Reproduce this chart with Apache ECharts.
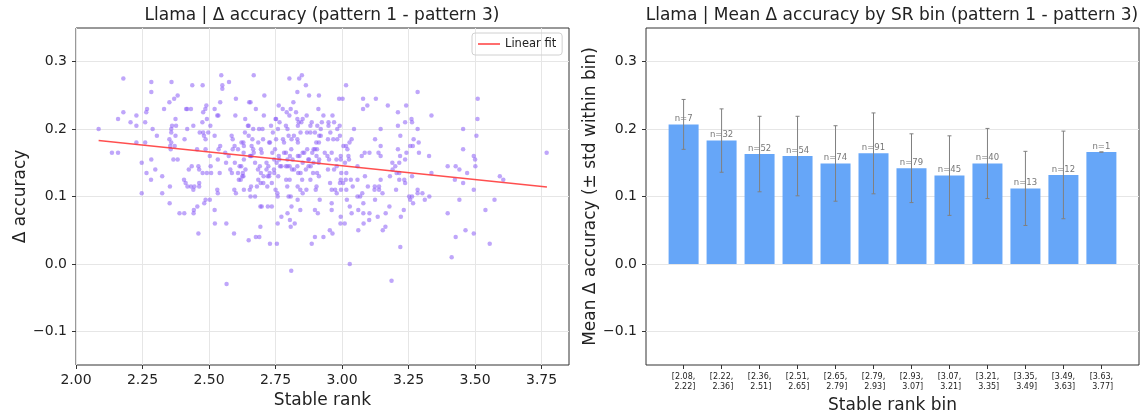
<!DOCTYPE html>
<html>
<head>
<meta charset="utf-8">
<script src="https://cdn.jsdelivr.net/npm/echarts@6/dist/echarts.min.js"></script>
<style>
  html, body { margin: 0; padding: 0; background: #fff; }
  #main { width: 1146px; height: 419px; }
</style>
</head>
<body>
<div id="main"></div>
<script>
// scatter: [stable rank, delta accuracy]
const scatterPoints = [
  [2.546,0.28],[2.668,0.28],[2.849,0.28],[2.839,0.275],[2.802,0.275],[2.178,0.275],
  [2.283,0.27],[2.359,0.27],[2.437,0.265],[2.476,0.265],[2.55,0.265],[2.575,0.27],[2.55,0.26],[2.864,0.265],
  [2.283,0.255],[2.832,0.255],[2.708,0.25],[2.876,0.25],[2.382,0.25],[2.369,0.245],[2.601,0.245],
  [2.351,0.24],[2.542,0.24],[2.651,0.24],[2.656,0.24],[2.817,0.24],[2.913,0.25],
  [2.49,0.235],[2.762,0.235],[2.267,0.23],[2.331,0.23],[2.414,0.23],[2.418,0.23],[2.432,0.23],[2.486,0.23],[2.521,0.23],[2.676,0.23],[2.777,0.23],[2.807,0.23],[2.911,0.23],
  [2.178,0.225],[2.264,0.225],[2.478,0.225],[2.531,0.22],[2.535,0.22],[2.599,0.22],[2.706,0.22],[2.792,0.225],[2.827,0.225],[2.802,0.22],[2.867,0.22],
  [2.158,0.215],[2.227,0.22],[2.374,0.215],[2.636,0.215],[2.752,0.215],[2.75,0.215],[2.832,0.215],[2.837,0.21],[2.847,0.21],[2.852,0.215],
  [2.205,0.21],[2.26,0.21],[2.475,0.21],[2.492,0.215],[2.765,0.21],[2.886,0.21],[2.907,0.205],
  [2.227,0.205],[2.361,0.205],[2.376,0.205],[2.441,0.205],[2.505,0.205],[2.646,0.205],[2.649,0.205],[2.733,0.205],[2.789,0.205],[2.881,0.205],[2.834,0.205],
  [2.085,0.2],[2.288,0.2],[2.358,0.2],[2.418,0.2],[2.465,0.195],[2.478,0.195],[2.497,0.195],[2.666,0.2],[2.688,0.2],[2.701,0.2],[2.759,0.2],[2.795,0.2],[2.74,0.195],[2.635,0.195],[2.868,0.195],[2.881,0.195],[2.898,0.195],
  [2.304,0.19],[2.358,0.195],[2.374,0.19],[2.481,0.19],[2.521,0.19],[2.585,0.19],[2.649,0.19],[2.799,0.19],[2.819,0.19],[2.914,0.19],[2.844,0.195],
  [2.351,0.185],[2.408,0.185],[2.487,0.185],[2.589,0.185],[2.663,0.185],[2.703,0.185],[2.752,0.185],[2.778,0.185],[2.81,0.185],[2.832,0.185],[2.903,0.18],
  [2.227,0.18],[2.26,0.18],[2.358,0.18],[2.354,0.175],[2.371,0.175],[2.542,0.175],[2.596,0.175],[2.622,0.18],[2.629,0.18],[2.631,0.175],[2.66,0.175],[2.685,0.18],[2.726,0.18],[2.729,0.18],[2.782,0.18],[2.834,0.18],[2.913,0.18],
  [2.356,0.17],[2.455,0.17],[2.487,0.17],[2.536,0.17],[2.589,0.17],[2.609,0.17],[2.666,0.17],[2.695,0.17],[2.748,0.17],[2.809,0.17],[2.898,0.17],[2.893,0.17],[2.906,0.17],[2.888,0.165],[2.869,0.17],
  [2.135,0.165],[2.158,0.165],[2.561,0.165],[2.63,0.165],[2.668,0.165],[2.698,0.165],[2.738,0.165],[2.782,0.165],[2.789,0.165],[2.852,0.165],[2.858,0.165],[2.904,0.16],
  [2.503,0.16],[2.574,0.16],[2.654,0.16],[2.656,0.16],[2.66,0.16],[2.745,0.155],[2.762,0.16],[2.804,0.16],[2.834,0.16],[2.84,0.16],[2.873,0.155],[2.914,0.155],
  [2.283,0.155],[2.366,0.155],[2.382,0.155],[2.533,0.155],[2.631,0.155],[2.764,0.155],[2.795,0.155],[2.814,0.155],[2.876,0.155],
  [2.247,0.15],[2.564,0.15],[2.597,0.15],[2.673,0.15],[2.716,0.15],[2.754,0.15],[2.852,0.15],[2.893,0.15],[2.912,0.15],
  [2.435,0.145],[2.46,0.145],[2.506,0.145],[2.615,0.145],[2.621,0.145],[2.691,0.145],[2.723,0.145],[2.767,0.145],[2.772,0.145],[2.789,0.145],[2.795,0.145],[2.803,0.145],[2.832,0.145],[2.874,0.145],[2.882,0.145],
  [2.298,0.14],[2.424,0.14],[2.463,0.14],[2.58,0.14],[2.637,0.14],[2.684,0.14],[2.716,0.14],[2.744,0.14],[2.812,0.14],[2.82,0.14],[2.864,0.14],
  [2.265,0.135],[2.476,0.135],[2.492,0.135],[2.508,0.135],[2.54,0.135],[2.586,0.135],[2.609,0.135],[2.627,0.135],[2.695,0.135],[2.728,0.135],[2.745,0.135],[2.835,0.135],[2.844,0.135],[2.891,0.135],[2.906,0.135],
  [2.324,0.13],[2.406,0.125],[2.412,0.12],[2.625,0.13],[2.619,0.125],[2.629,0.13],[2.705,0.13],[2.721,0.13],[2.726,0.13],[2.76,0.13],[2.79,0.125],[2.803,0.125],[2.85,0.125],[2.881,0.125],[2.913,0.13],
  [2.282,0.125],[2.419,0.115],[2.432,0.115],[2.445,0.115],[2.463,0.115],[2.463,0.12],[2.353,0.115],[2.612,0.125],[2.685,0.125],[2.694,0.12],[2.704,0.12],[2.719,0.115],[2.736,0.12],[2.794,0.115],[2.833,0.115],[2.904,0.115],
  [2.441,0.11],[2.531,0.11],[2.595,0.11],[2.631,0.11],[2.658,0.115],[2.68,0.115],[2.653,0.11],[2.75,0.11],[2.843,0.11],[2.866,0.11],[2.901,0.11],
  [2.247,0.105],[2.324,0.105],[2.533,0.105],[2.601,0.105],[2.656,0.1],[2.673,0.1],[2.757,0.105],[2.758,0.1],[2.799,0.1],[2.807,0.1],[2.852,0.105],
  [2.487,0.095],[2.503,0.095],[2.833,0.095],[2.916,0.095],[2.352,0.09],[2.482,0.09],
  [2.693,0.085],[2.698,0.085],[2.721,0.085],[2.736,0.085],[2.81,0.085],[2.898,0.08],[2.843,0.08],
  [2.456,0.085],[2.443,0.08],[2.521,0.08],[2.442,0.075],[2.389,0.075],[2.407,0.075],[2.772,0.07],[2.795,0.075],[2.909,0.075],
  [2.804,0.065],[2.758,0.06],[2.822,0.06],[2.522,0.06],[2.565,0.06],[2.807,0.055],[2.693,0.055],
  [2.46,0.045],[2.594,0.045],[2.676,0.04],[2.689,0.04],[2.898,0.04],[2.649,0.035],
  [2.729,0.03],[2.755,0.03],[2.886,0.03],[2.809,-0.01],[2.566,-0.03],
  [3.015,0.265],[3.284,0.255],[2.989,0.245],[3.002,0.245],[3.079,0.245],[3.127,0.245],[3.51,0.245],
  [3.095,0.235],[3.172,0.235],[3.241,0.235],[3.079,0.23],[3.21,0.225],[2.93,0.22],[2.964,0.22],[3.336,0.22],
  [2.924,0.21],[2.949,0.21],[2.97,0.21],[3.261,0.215],[3.237,0.21],[3.263,0.21],[3.509,0.215],
  [2.949,0.205],[2.991,0.205],[3.21,0.205],[2.92,0.2],[2.956,0.195],[2.982,0.2],[3.045,0.2],[3.145,0.2],[3.284,0.2],[3.455,0.2],
  [2.92,0.19],[2.992,0.19],[3.219,0.19],[3.505,0.19],[2.947,0.185],[2.967,0.185],[2.982,0.185],[3.036,0.185],[3.124,0.185],[3.269,0.185],
  [3.028,0.18],[3.288,0.18],[3.005,0.175],[3.015,0.175],[3.02,0.17],[3.145,0.175],[3.256,0.175],[3.266,0.175],[3.21,0.17],[3.455,0.17],
  [2.935,0.165],[2.961,0.165],[3.085,0.165],[3.103,0.165],[3.137,0.165],[3.242,0.165],[3.289,0.165],[3.769,0.165],
  [2.945,0.16],[2.951,0.155],[2.979,0.155],[2.995,0.16],[3.024,0.16],[3.074,0.16],[3.145,0.16],[3.218,0.16],[3.327,0.16],[3.495,0.16],
  [2.995,0.155],[3.026,0.155],[3.237,0.155],[3.011,0.15],[3.189,0.15],[3.215,0.15],[3.5,0.155],
  [2.98,0.145],[3.058,0.145],[3.2,0.145],[3.397,0.145],[3.427,0.145],[3.501,0.145],
  [2.947,0.14],[2.97,0.14],[3.19,0.14],[3.441,0.14],
  [2.997,0.135],[3.016,0.135],[3.205,0.135],[3.215,0.135],[3.336,0.135],[3.47,0.135],
  [3.086,0.13],[3.18,0.13],[3.263,0.13],[3.593,0.13],
  [2.995,0.125],[3.014,0.125],[3.033,0.125],[3.058,0.125],[3.145,0.125],[3.215,0.125],[3.234,0.125],[3.424,0.125],[3.606,0.125],
  [2.955,0.12],[2.992,0.12],[3.004,0.12],[3.237,0.12],[3.455,0.12],
  [3.04,0.115],[3.097,0.115],[3.123,0.115],[3.139,0.115],
  [2.961,0.11],[2.974,0.11],[2.996,0.11],[3.016,0.11],[3.122,0.11],[3.139,0.11],[3.203,0.11],[3.284,0.11],[3.495,0.11],
  [2.98,0.105],[3.076,0.105],[3.152,0.105],[3.284,0.105],[3.302,0.105],
  [3.058,0.1],[3.068,0.1],[3.252,0.1],[3.263,0.1],[3.328,0.1],
  [3.018,0.095],[3.124,0.095],[3.256,0.095],[3.311,0.095],[3.441,0.095],[3.573,0.095],
  [2.961,0.09],[3.08,0.09],[3.267,0.09],[3.029,0.085],[3.178,0.085],
  [2.961,0.08],[3.061,0.08],[3.232,0.08],[3.539,0.08],
  [3.036,0.075],[3.08,0.075],[3.103,0.075],[3.164,0.075],[3.397,0.075],
  [2.995,0.07],[3.134,0.07],[3.221,0.07],[3.102,0.065],
  [3.081,0.06],[2.994,0.06],[3.01,0.06],[3.163,0.055],
  [3.153,0.05],[3.061,0.05],[3.464,0.05],[3.495,0.045],[2.954,0.05],[2.964,0.045],[2.93,0.04],[3.427,0.04],
  [3.555,0.03],[3.219,0.025],[3.412,0.01],[3.029,0.0],[3.186,-0.025]
];

// linear fit end points
const fitX = [2.085, 3.77];
const fitY = [0.183, 0.114];

// bins
const binEdges = [2.08, 2.22, 2.36, 2.51, 2.65, 2.79, 2.93, 3.07, 3.21, 3.35, 3.49, 3.63, 3.77];
const binMeans = [0.207, 0.183, 0.163, 0.160, 0.149, 0.164, 0.142, 0.131, 0.149, 0.112, 0.132, 0.166];
const binStds = [0.037, 0.047, 0.056, 0.059, 0.056, 0.060, 0.051, 0.059, 0.052, 0.055, 0.065, 0];
const binCounts = [7, 32, 52, 54, 74, 91, 79, 45, 40, 13, 12, 1];

// ticks
const rankTicks = [2.0, 2.25, 2.5, 2.75, 3.0, 3.25, 3.5, 3.75];
const deltaTicks = [-0.1, 0, 0.1, 0.2, 0.3];
const binTicks = binMeans.map((m, i) => i);
const binLabels = binEdges.slice(0, -1).map((e, i) => '[' + e.toFixed(2) + ',\n ' + binEdges[i + 1].toFixed(2) + ']');

const FONT = 'DejaVu Sans';
const GRID = '#e6e6e6';
const fmtDelta = v => v < 0 ? '\u2212' + Math.abs(v).toFixed(1) : v.toFixed(1);

const tick = { show: true, inside: false, length: 4, lineStyle: { color: '#333', width: 1 } };
const tickLabel = { color: '#222', fontSize: 14, fontFamily: FONT };
const axisName = { color: '#222', fontSize: 17, fontFamily: FONT };
const titleText = { fontSize: 17, fontWeight: 'normal', color: '#222', fontFamily: FONT };
const noLine = { show: false, onZero: false };

// split lines follow the custom tick values
function deltaAxis(gridIndex, name) {
  return {
    type: 'value', gridIndex: gridIndex, min: -0.15, max: 0.35,
    name: name, nameLocation: 'middle', nameGap: 47, nameTextStyle: axisName,
    axisLine: noLine,
    splitLine: { show: true, lineStyle: { color: GRID, width: 1 } },
    axisTick: Object.assign({ customValues: deltaTicks }, tick),
    axisLabel: Object.assign({ customValues: deltaTicks, margin: 9, formatter: fmtDelta }, tickLabel)
  };
}

let chart = echarts.init(document.getElementById('main'));
chart.setOption({
  animation: false,
  textStyle: { fontFamily: FONT },
  title: [
    { text: 'Llama | \u0394 accuracy (pattern 1 - pattern 3)', left: 322, top: 7, textAlign: 'center', padding: 0, textStyle: titleText },
    { text: 'Llama | Mean \u0394 accuracy by SR bin (pattern 1 - pattern 3)', left: 892, top: 7, textAlign: 'center', padding: 0, textStyle: titleText }
  ],
  legend: {
    data: [{ name: 'Linear fit', icon: 'rect' }],
    left: 472, top: 33,
    padding: [5, 6, 5, 6],
    itemWidth: 22, itemHeight: 1.6, itemGap: 0,
    borderColor: '#d0d0d0', borderWidth: 1, borderRadius: 3,
    textStyle: { fontSize: 11.5, color: '#222', fontFamily: FONT }
  },
  grid: [
    { left: 76, right: 577, top: 28, bottom: 54, show: true, borderColor: '#333', borderWidth: 1 },
    { left: 646, right: 7, top: 28, bottom: 54, show: true, borderColor: '#333', borderWidth: 1 }
  ],
  xAxis: [
    {
      type: 'value', gridIndex: 0, min: 2.0, max: 3.853,
      name: 'Stable rank', nameLocation: 'middle', nameGap: 27, nameTextStyle: axisName,
      axisLine: noLine,
      splitLine: { show: true, lineStyle: { color: GRID, width: 1 } },
      axisTick: Object.assign({ customValues: rankTicks }, tick),
      axisLabel: Object.assign({ customValues: rankTicks, margin: 8, formatter: v => v.toFixed(2) }, tickLabel)
    },
    {
      type: 'value', gridIndex: 1, min: -0.99, max: 11.99,
      name: 'Stable rank bin', nameLocation: 'middle', nameGap: 30, nameTextStyle: axisName,
      axisLine: noLine, splitLine: { show: false },
      axisTick: Object.assign({ customValues: binTicks }, tick),
      axisLabel: { customValues: binTicks, margin: 7, fontSize: 8, lineHeight: 10, color: '#222', fontFamily: FONT,
        formatter: v => binLabels[Math.round(v)] }
    }
  ],
  yAxis: [
    deltaAxis(0, '\u0394 accuracy'),
    deltaAxis(1, 'Mean \u0394 accuracy (\u00b1 std within bin)')
  ],
  series: [
    {
      name: 'points', type: 'scatter', xAxisIndex: 0, yAxisIndex: 0, z: 3,
      symbolSize: 4.5,
      itemStyle: { color: '#8b5cf6', opacity: 0.55 },
      data: scatterPoints
    },
    {
      name: 'Linear fit', type: 'line', xAxisIndex: 0, yAxisIndex: 0, z: 4,
      symbol: 'none', silent: true,
      lineStyle: { color: '#ff3030', width: 1.4, opacity: 0.85 },
      itemStyle: { color: '#ff4a4a' },
      data: fitX.map((x, i) => [x, fitY[i]])
    },
    {
      name: 'mean', type: 'bar', xAxisIndex: 1, yAxisIndex: 1, z: 3,
      barWidth: 30,
      itemStyle: { color: '#66a6f8' },
      label: {
        show: true, position: 'top', distance: 1,
        fontSize: 8.5, color: '#777', fontFamily: FONT,
        formatter: p => 'n=' + binCounts[p.dataIndex]
      },
      data: binMeans.map((m, i) => [i, m])
    },
    {
      name: 'std', type: 'custom', xAxisIndex: 1, yAxisIndex: 1, z: 5,
      silent: true,
      renderItem: function (params, api) {
        const x = api.value(0), m = api.value(1), s = api.value(2);
        const top = api.coord([x, m + s]);
        const bot = api.coord([x, m - s]);
        const cap = 2;
        const st = { stroke: '#808080', lineWidth: 1 };
        return {
          type: 'group',
          children: [
            { type: 'line', shape: { x1: top[0], y1: top[1], x2: bot[0], y2: bot[1] }, style: st },
            { type: 'line', shape: { x1: top[0] - cap, y1: top[1], x2: top[0] + cap, y2: top[1] }, style: st },
            { type: 'line', shape: { x1: bot[0] - cap, y1: bot[1], x2: bot[0] + cap, y2: bot[1] }, style: st }
          ]
        };
      },
      encode: { x: 0, y: 1 },
      data: binMeans.map((m, i) => [i, m, binStds[i]])
    }
  ]
});
</script>
</body>
</html>
